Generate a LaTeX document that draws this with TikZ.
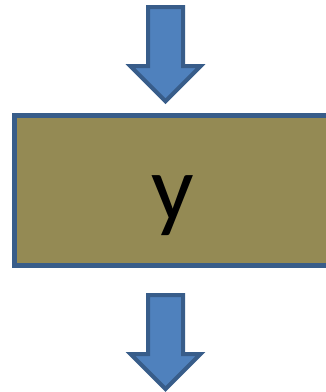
\documentclass[tikz,border=0pt]{standalone}
\usepackage{fontspec}
\setmainfont{Carlito}
\usepackage{xcolor}
\usepackage{tikz}
\usetikzlibrary{positioning,shapes.arrows}
\definecolor{BOlive}{HTML}{948A54}
\definecolor{BEdge}{HTML}{385D8A}
\definecolor{BArrow}{HTML}{4F81BD}

\begin{document}
\begin{tikzpicture}[
  x=1pt,y=1pt,
  blk/.style={draw=BEdge,line width=5pt,fill=BOlive,
    minimum width=317pt,minimum height=150pt,inner sep=0pt},
  lbl/.style={font=\fontsize{94}{94}\selectfont,anchor=base,inner sep=0pt},
  flow/.style={single arrow,draw=BEdge,line width=4pt,fill=BArrow,
    rotate=-90,minimum height=94pt,inner xsep=0pt,inner ysep=15.5pt,
    single arrow head extend=17.5pt,single arrow tip angle=90}
]
  \useasboundingbox (0,0) rectangle (325,-392);
  \node[blk] (ybox) at (173,-190.5) {};
  \node[lbl] (ytext) at ([yshift=-30pt]ybox.center) {y};
  \node[flow,anchor=tip] (inarrow) at ([xshift=-7.5pt,yshift=9pt]ybox.north) {};
  \node[flow,anchor=tail] (outarrow) at ([xshift=-7.5pt,yshift=-25pt]ybox.south) {};
\end{tikzpicture}
\end{document}
